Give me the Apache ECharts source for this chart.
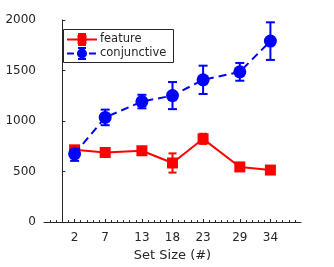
<!DOCTYPE html>
<html><head><meta charset="utf-8">
<script src="https://cdn.jsdelivr.net/npm/echarts@6/dist/echarts.min.js"></script>
<style>html,body{margin:0;padding:0;background:#fff}#c{width:334px;height:267px}</style>
</head><body><div id="c"></div>
<script>
var setSizes = [2, 7, 13, 18, 23, 29, 34];
var featureRT = [715, 689, 706, 585, 824, 546, 515];
var featureErr = [30, 30, 30, 95, 50, 25, 20];
var conjRT = [676, 1036, 1193, 1252, 1408, 1487, 1791];
var conjErr = [70, 77, 67, 134, 140, 88, 186];
var yTicks = [0, 500, 1000, 1500, 2000];

var FONT = 'DejaVu Sans';
var TXT = '#262626';
var RED = '#ff0000', BLUE = '#0000ff';

function pts(ys){ return setSizes.map(function(x,i){ return [x, ys[i]]; }); }
function errData(ys, es){ return setSizes.map(function(x,i){ return [x, ys[i]-es[i], ys[i]+es[i]]; }); }
function errSeries(name, ys, es, color, cap){
  return {
    type:'custom', name:name+'_err', z:3,
    data: errData(ys, es),
    renderItem: function(params, api){
      var lo = api.coord([api.value(0), api.value(1)]);
      var hi = api.coord([api.value(0), api.value(2)]);
      var st = {stroke:color, lineWidth:2};
      return {type:'group', children:[
        {type:'line', shape:{x1:lo[0],y1:lo[1],x2:hi[0],y2:hi[1]}, style:st},
        {type:'line', shape:{x1:lo[0]-cap,y1:lo[1],x2:lo[0]+cap,y2:lo[1]}, style:st},
        {type:'line', shape:{x1:hi[0]-cap,y1:hi[1],x2:hi[0]+cap,y2:hi[1]}, style:st}
      ]};
    }
  };
}
var minorTicks = [];
for (var t = -2; t <= 38; t++) minorTicks.push(t);

var chart = echarts.init(document.getElementById('c'), null, {renderer:'canvas'});
chart.setOption({
  animation:false,
  grid:{left:44, right:33, top:20, bottom:43, containLabel:false},
  xAxis:[{
    type:'value', min:-3, max:39,
    name:'Set Size (#)', nameLocation:'middle', nameGap:25,
    nameTextStyle:{fontFamily:FONT, fontSize:13, color:TXT},
    axisLine:{show:true, onZero:false, lineStyle:{color:TXT, width:1}},
    axisTick:{show:true, inside:true, length:3, customValues:setSizes, lineStyle:{color:TXT}},
    axisLabel:{customValues:setSizes, fontFamily:FONT, fontSize:12, color:TXT, margin:10},
    splitLine:{show:false}
  },{
    type:'value', min:-3, max:39, position:'bottom', gridIndex:0,
    axisLine:{show:false},
    axisTick:{show:true, inside:true, length:2, customValues:minorTicks, lineStyle:{color:TXT}},
    axisLabel:{show:false}, splitLine:{show:false}
  }],
  yAxis:{
    type:'value', min:0, max:2000, interval:500,
    axisLine:{show:true, lineStyle:{color:TXT, width:1}},
    axisTick:{show:true, inside:true, length:3, lineStyle:{color:TXT}},
    axisLabel:{fontFamily:FONT, fontSize:12, color:TXT, margin:8, customValues:yTicks,
               formatter:function(v){ return String(v); }},
    splitLine:{show:false}
  },
  series:[
    errSeries('feature', featureRT, featureErr, RED, 4),
    {type:'line', name:'feature', data:pts(featureRT), z:4,
     symbol:'rect', symbolSize:11, showSymbol:true,
     lineStyle:{color:RED, width:2}, itemStyle:{color:RED}},
    errSeries('conjunctive', conjRT, conjErr, BLUE, 4.5),
    {type:'line', name:'conjunctive', data:pts(conjRT), z:5,
     symbol:'circle', symbolSize:13, showSymbol:true,
     lineStyle:{color:BLUE, width:2, type:[8,5]}, itemStyle:{color:BLUE}}
  ],
  graphic:[
    {type:'rect', shape:{x:63.5, y:29.5, width:110, height:33}, style:{fill:'#fff', stroke:'#262626', lineWidth:1}, z:10},
    {type:'line', shape:{x1:67, y1:39.5, x2:97, y2:39.5}, style:{stroke:RED, lineWidth:2}, z:11},
    {type:'line', shape:{x1:82, y1:34, x2:82, y2:45}, style:{stroke:RED, lineWidth:2}, z:11},
    {type:'line', shape:{x1:78, y1:34, x2:86, y2:34}, style:{stroke:RED, lineWidth:2}, z:11},
    {type:'line', shape:{x1:78, y1:45, x2:86, y2:45}, style:{stroke:RED, lineWidth:2}, z:11},
    {type:'rect', shape:{x:77.5, y:35, width:9, height:9}, style:{fill:RED}, z:11},
    {type:'text', x:100, y:39.5, style:{text:'feature', fontFamily:FONT, fontSize:11.5, fill:TXT, verticalAlign:'middle'}, z:11},
    {type:'line', shape:{x1:67, y1:53.5, x2:97, y2:53.5}, style:{stroke:BLUE, lineWidth:2, lineDash:[7,4]}, z:11},
    {type:'line', shape:{x1:82, y1:48, x2:82, y2:59}, style:{stroke:BLUE, lineWidth:2}, z:11},
    {type:'line', shape:{x1:78, y1:48, x2:86, y2:48}, style:{stroke:BLUE, lineWidth:2}, z:11},
    {type:'line', shape:{x1:78, y1:59, x2:86, y2:59}, style:{stroke:BLUE, lineWidth:2}, z:11},
    {type:'circle', shape:{cx:82, cy:53.5, r:5}, style:{fill:BLUE}, z:11},
    {type:'text', x:100, y:53.5, style:{text:'conjunctive', fontFamily:FONT, fontSize:11.5, fill:TXT, verticalAlign:'middle'}, z:11}
  ]
});
</script></body></html>
